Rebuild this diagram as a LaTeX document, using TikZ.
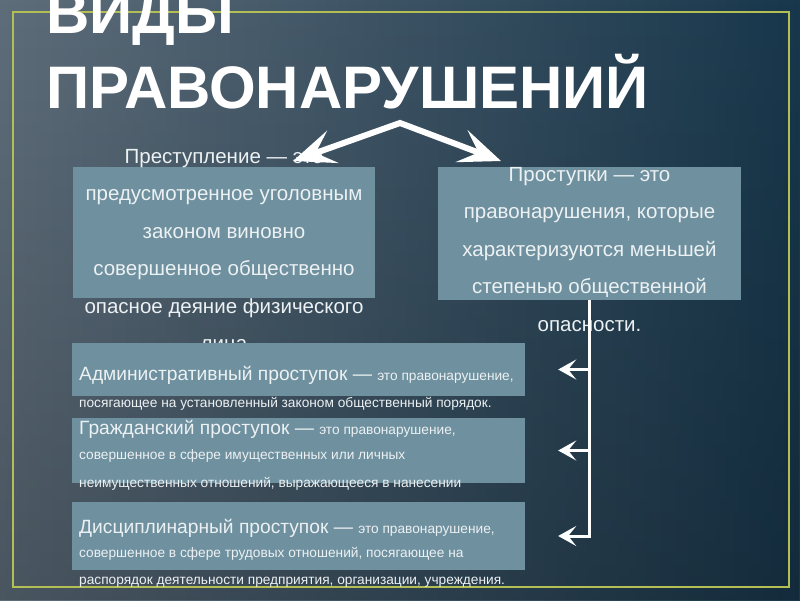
\documentclass[tikz,border=0pt]{standalone}
\usepackage{fontspec}
\setmainfont{Liberation Sans}
\usetikzlibrary{arrows.meta,fadings}
\definecolor{bgL}{HTML}{5E6D7A}
\definecolor{bgR}{HTML}{18374C}
\definecolor{framec}{HTML}{B3BF55}
\definecolor{boxc}{HTML}{6F909E}
\definecolor{textc}{HTML}{ECF1F3}
\tikzset{
  box/.style={fill=boxc, draw=none, inner sep=0pt},
  bigtxt/.style={text=textc, inner sep=0pt, anchor=base, font=\fontsize{20.5}{24}\selectfont},
  lefttxt/.style={text=textc, inner sep=0pt, anchor=base west, font=\fontsize{19.2}{22}\selectfont},
  smalltxt/.style={text=textc, inner sep=0pt, anchor=base west, font=\fontsize{13.7}{16}\selectfont},
  titletxt/.style={text=white, inner sep=0pt, anchor=base west, font=\bfseries\fontsize{60}{60}\selectfont},
  bigarrow/.style={draw=white, line width=6pt, line join=miter,
    {Stealth[length=42pt,width=34pt,inset=18pt]}-{Stealth[length=42pt,width=34pt,inset=18pt]}},
  smallarrow/.style={draw=white, line width=3pt, line join=miter,
    -{Stealth[length=18pt,width=20pt,inset=8pt]}, shorten >=33pt},
}
\newcommand{\sm}[1]{{\fontsize{13.7}{16}\selectfont #1}}
\begin{document}
\begin{tikzpicture}[x=1pt,y=-1pt]
\useasboundingbox (0,0) rectangle (800,600);
\shade[left color=bgL, right color=bgR] (0,0) rectangle (800,600);
\fill[black, opacity=0.22, path fading=north] (0,0) rectangle (800,600);
\draw[framec, line width=2.5pt] (13,12) rectangle (789,587);

% upper boxes
\node[box, minimum width=302pt, minimum height=131pt] (b1) at (224,232.5) {};
\node[box, minimum width=303pt, minimum height=133pt] (b2) at (589.5,233.5) {};

\node[bigtxt] (t11) at (224,163) {Преступление — это};
\node[bigtxt] (t12) at (224,200.5) {предусмотренное уголовным};
\node[bigtxt] (t13) at (224,238) {законом виновно};
\node[bigtxt] (t14) at (224,275.5) {совершенное общественно};
\node[bigtxt] (t15) at (224,313) {опасное деяние физического};
\node[bigtxt] (t16) at (224,350.5) {лица};

\node[bigtxt] (t21) at (589.5,181) {Проступки — это};
\node[bigtxt] (t22) at (589.5,218.5) {правонарушения, которые};
\node[bigtxt] (t23) at (589.5,256) {характеризуются меньшей};
\node[bigtxt] (t24) at (589.5,293.5) {степенью общественной};
\node[bigtxt] (t25) at (589.5,331) {опасности.};

% top arrows
\coordinate (apex) at (400,123);
\coordinate (tipL) at (293,161);
\coordinate (tipR) at (501,161);
\draw[bigarrow] (tipL) -- (apex) -- (tipR);

% lower boxes
\node[box, minimum width=453pt, minimum height=53pt] (b3) at (298.5,369.5) {};
\node[box, minimum width=453pt, minimum height=65pt] (b4) at (298.5,450.5) {};
\node[box, minimum width=453pt, minimum height=68pt] (b5) at (298.5,536) {};

\node[lefttxt] (t31) at (79,380) {Административный проступок — \sm{это правонарушение,}};
\node[smalltxt] (t32) at (79,407) {посягающее на установленный законом общественный порядок.};

\node[lefttxt] (t41) at (79,434) {Гражданский проступок — \sm{это правонарушение,}};
\node[smalltxt] (t42) at (79,459) {совершенное в сфере имущественных или личных};
\node[smalltxt] (t43) at (79,487) {неимущественных отношений, выражающееся в нанесении};

\node[lefttxt] (t51) at (79,533) {Дисциплинарный проступок — \sm{это правонарушение,}};
\node[smalltxt] (t52) at (79,557) {совершенное в сфере трудовых отношений, посягающее на};
\node[smalltxt] (t53) at (79,584) {распорядок деятельности предприятия, организации, учреждения.};

% connectors
\draw[smallarrow] (b2.south) |- (b5.east);
\draw[smallarrow] (b2.south |- b3.east) -- (b3.east);
\draw[smallarrow] (b2.south |- b4.east) -- (b4.east);

% title
\node[titletxt] (title1) at (46,33) {ВИДЫ};
\node[titletxt] (title2) at (46,108) {ПРАВОНАРУШЕНИЙ};
\end{tikzpicture}
\end{document}
